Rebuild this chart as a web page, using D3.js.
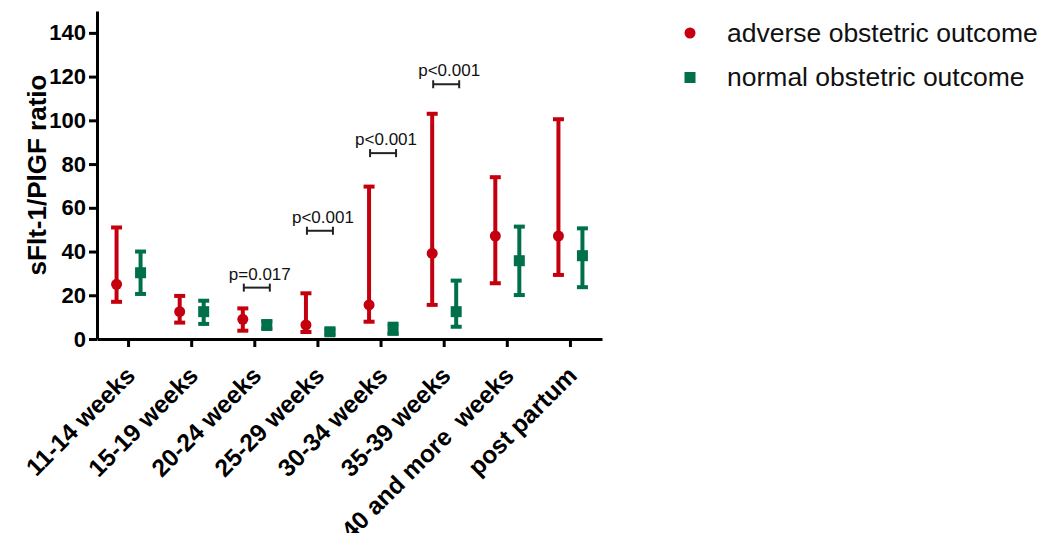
<!DOCTYPE html>
<html>
<head>
<meta charset="utf-8">
<script src="https://cdn.jsdelivr.net/npm/d3@7"></script>
<style>
  body { margin: 0; background: #fff; }
  svg text { font-family: Arial, "Liberation Sans", sans-serif; }
</style>
</head>
<body>
<div id="chart"></div>
<script>
// values (medians with ranges)
var categories = ["11-14 weeks", "15-19 weeks", "20-24 weeks", "25-29 weeks",
                  "30-34 weeks", "35-39 weeks", "40 and more  weeks", "post partum"];
var adverseMedian = [25, 12.5, 9, 6.4, 15.6, 39.2, 47.1, 47.1];
var adverseLow    = [17, 7.5, 3.8, 3.2, 7.9, 15.6, 25.5, 29.3];
var adverseHigh   = [51, 19.7, 14, 20.9, 69.7, 103, 74, 100.5];
var normalMedian  = [30.3, 12.5, 6.4, 3.3, 4.1, 12.5, 35.8, 38.1];
var normalLow     = [20.6, 6.9, 4.6, 2.2, 2.4, 5.6, 20.1, 23.7];
var normalHigh    = [40, 17.5, 8.2, 4.4, 7, 26.7, 51.4, 50.6];
var yTicks = [0, 20, 40, 60, 80, 100, 120, 140];

// significance brackets
var pCategory = ["20-24 weeks", "25-29 weeks", "30-34 weeks", "35-39 weeks"];
var pLevel    = [23.5, 49.5, 85, 116.5];
var pLabel    = ["p=0.017", "p<0.001", "p<0.001", "p<0.001"];

var seriesNames = ["adverse obstetric outcome", "normal obstetric outcome"];

var red = "#c4000e",
    green = "#00704a",
    width = 1043,
    height = 533,
    margin = { top: 11, left: 97, right: 441, bottom: 194 };

var svg = d3.select("#chart")
  .append("svg")
  .attr("width", width)
  .attr("height", height);

var x = d3.scaleBand()
  .domain(categories)
  .range([margin.left, width - margin.right]);

var y = d3.scaleLinear()
  .domain([0, 150])
  .range([height - margin.bottom, margin.top]);

var cx = function(c) { return x(c) + x.bandwidth() / 2; };
var shift = 12;

// y axis
var yAxis = svg.append("g")
  .attr("transform", "translate(" + margin.left + ",0)")
  .call(d3.axisLeft(y).tickValues(yTicks).tickSize(8).tickSizeOuter(0).tickPadding(3));
yAxis.select(".domain").attr("stroke-width", 3);
yAxis.selectAll(".tick line").attr("stroke-width", 3);
yAxis.selectAll(".tick text")
  .style("font-size", "22px")
  .style("font-weight", "bold")
  .attr("fill", "#000");

// x axis
var xAxis = svg.append("g")
  .attr("transform", "translate(0," + y(0) + ")")
  .call(d3.axisBottom(x).tickSize(8).tickSizeOuter(0));
xAxis.select(".domain").attr("stroke-width", 3);
xAxis.selectAll(".tick line").attr("stroke-width", 3);
xAxis.selectAll(".tick text")
  .attr("y", 0).attr("dy", 0)
  .attr("transform", "translate(8,38) rotate(-45)")
  .attr("text-anchor", "end")
  .attr("fill", "#000")
  .style("white-space", "pre")
  .style("font-size", "24.5px")
  .style("font-weight", "bold");

// y title
svg.append("text")
  .attr("transform", "translate(46," + y(75) + ") rotate(-90)")
  .attr("text-anchor", "middle")
  .style("font-size", "26px")
  .style("font-weight", "bold")
  .text("sFlt-1/PlGF ratio");

// error bars
function drawSeries(median, low, high, offset, color, square) {
  var g = svg.append("g");
  var rows = categories.map(function(c, i) {
    return { c: c, m: median[i], lo: low[i], hi: high[i] };
  });
  var px = function(d) { return cx(d.c) + offset; };

  g.selectAll(".whisker").data(rows).enter().append("line")
    .attr("x1", px).attr("x2", px)
    .attr("y1", function(d) { return y(d.lo); })
    .attr("y2", function(d) { return y(d.hi); })
    .attr("stroke", color).attr("stroke-width", 4);

  ["lo", "hi"].forEach(function(k) {
    g.selectAll(".cap-" + k).data(rows).enter().append("line")
      .attr("x1", function(d) { return px(d) - 5.5; })
      .attr("x2", function(d) { return px(d) + 5.5; })
      .attr("y1", function(d) { return y(d[k]); })
      .attr("y2", function(d) { return y(d[k]); })
      .attr("stroke", color).attr("stroke-width", 4);
  });

  if (square) {
    g.selectAll(".pt").data(rows).enter().append("rect")
      .attr("x", function(d) { return px(d) - 5.5; })
      .attr("y", function(d) { return y(d.m) - 5.5; })
      .attr("width", 11).attr("height", 11)
      .attr("fill", color);
  } else {
    g.selectAll(".pt").data(rows).enter().append("circle")
      .attr("cx", px)
      .attr("cy", function(d) { return y(d.m); })
      .attr("r", 5.5)
      .attr("fill", color);
  }
}
drawSeries(adverseMedian, adverseLow, adverseHigh, -shift, red, false);
drawSeries(normalMedian, normalLow, normalHigh, shift, green, true);

// p-value brackets
var pRows = pCategory.map(function(c, i) { return { c: c, v: pLevel[i], t: pLabel[i] }; });
var bl = function(d) { return cx(d.c) - shift + 1; },
    br = function(d) { return cx(d.c) + shift + 3; };
var pg = svg.append("g").attr("stroke", "#222").attr("stroke-width", 2);
pg.selectAll(".br").data(pRows).enter().append("line")
  .attr("x1", bl).attr("x2", br)
  .attr("y1", function(d) { return y(d.v); })
  .attr("y2", function(d) { return y(d.v); });
[bl, br].forEach(function(f, k) {
  pg.selectAll(".end" + k).data(pRows).enter().append("line")
    .attr("x1", f).attr("x2", f)
    .attr("y1", function(d) { return y(d.v) - 4; })
    .attr("y2", function(d) { return y(d.v) + 4; });
});
svg.selectAll(".ptext").data(pRows).enter().append("text")
  .attr("x", function(d) { return cx(d.c) + 5; })
  .attr("y", function(d) { return y(d.v) - 8; })
  .attr("text-anchor", "middle")
  .style("font-size", "17px")
  .attr("fill", "#111")
  .text(function(d) { return d.t; });

// legend
var legend = svg.append("g").attr("transform", "translate(690,33)");
legend.append("circle").attr("cx", 0).attr("cy", 0).attr("r", 5.5).attr("fill", red);
legend.append("rect").attr("x", -5.5).attr("y", 39).attr("width", 11).attr("height", 11).attr("fill", green);
legend.selectAll(".lt").data(seriesNames).enter().append("text")
  .attr("x", 37)
  .attr("y", function(d, i) { return 9 + i * 44; })
  .style("font-size", "26.5px")
  .attr("fill", "#111")
  .text(function(d) { return d; });
</script>
</body>
</html>
